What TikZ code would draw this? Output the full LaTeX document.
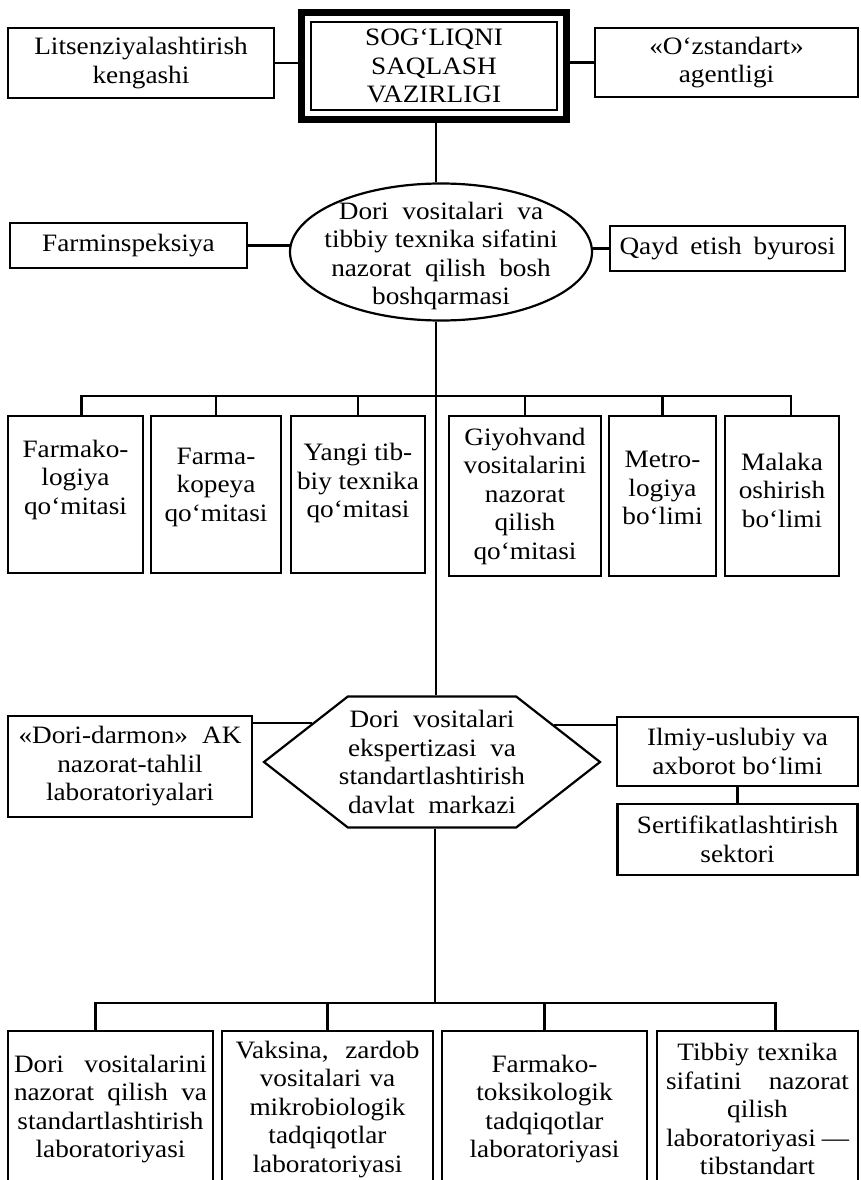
\documentclass[tikz,border=0pt]{standalone}
\usepackage{fontspec}
\setmainfont{Liberation Serif}[FakeStretch=1.09]
\usepackage{tikz}
\usetikzlibrary{shapes.geometric,shapes.symbols,fit}

\begin{document}
\begin{tikzpicture}[x=1pt, y=-1pt, line width=2.2pt,
  every node/.style={font=\fontsize{25}{28.5}\selectfont, align=center, inner sep=2pt}]
\tikzstyle{box}=[draw, rectangle, line width=2.2pt]
\clip (0,0) rectangle (860,1180);

% vazirlik va yonidagilar
\node[box, line width=1.2pt, minimum width=246, minimum height=88] (vaz) at (434,66) {SOG‘LIQNI\\SAQLASH\\VAZIRLIGI};
\node[draw, line width=7pt, fit=(vaz), inner sep=8.5pt] (vazf) {};
\node[box, minimum width=266, minimum height=70] (t1) at (141,63) {Litsenziyalashtirish\\kengashi};
\node[box, minimum width=263, minimum height=69] (t3) at (726.5,62.5) {«O‘zstandart»\\agentligi};

% bosh boshqarma
\node[draw, ellipse, minimum width=302, minimum height=137, inner sep=0pt,
  label={[yshift=-4pt]center:{Dori\ \ vositalari\ \ va\\tibbiy texnika sifatini\\nazorat\ \ qilish\ \ bosh\\boshqarmasi}}] (ell) at (441,252) {};
\node[box, minimum width=237, minimum height=45] (farm) at (128.5,245.5) {Farminspeksiya};
\node[box, minimum width=235, minimum height=45, text width=216] (qayd) at (727.5,248.5) {Qayd\hfill etish\hfill byurosi};

% qo'mitalar
\node[box, anchor=north, minimum width=135, minimum height=157, text depth=35pt] (k1) at (75.5,415) {Farmako-\\logiya\\qo‘mitasi};
\node[box, anchor=north, minimum width=130, minimum height=157, text depth=20pt] (k2) at (216,415) {Farma-\\kopeya\\qo‘mitasi};
\node[box, anchor=north, minimum width=134, minimum height=157, text depth=28pt] (k3) at (358,415) {Yangi tib-\\biy texnika\\qo‘mitasi};
\node[box, anchor=north, minimum width=152, minimum height=160] (k4) at (525,415) {Giyohvand\\vositalarini\\nazorat\\qilish\\qo‘mitasi};
\node[box, anchor=north, minimum width=107, minimum height=160, text depth=16pt] (k5) at (662.5,415) {Metro-\\logiya\\bo‘limi};
\node[box, anchor=north, minimum width=114, minimum height=160, text depth=12pt] (k6) at (782,415) {Malaka\\oshirish\\bo‘limi};

% davlat markazi
\node[draw, signal, signal to=east and west, signal pointer angle=76,
  minimum width=336, minimum height=131, inner sep=0pt,
  label={center:{Dori\ \ vositalari\\ekspertizasi\ \ va\\standartlashtirish\\davlat\ \ markazi}}] (hex) at (432,762) {};
\node[box, minimum width=244, minimum height=101, text width=223] (dd) at (130,766.5) {«Dori-darmon»\hfill AK\\nazorat-tahlil\\laboratoriyalari};
\node[box, minimum width=241, minimum height=69] (ilm) at (737.5,751.5) {Ilmiy-uslubiy va\\axborot bo‘limi};
\node[box, minimum width=240, minimum height=71] (sert) at (737.5,839.5) {Sertifikatlashtirish\\sektori};

% laboratoriyalar
\node[box, anchor=north, minimum width=205, minimum height=156, text width=193] (l1) at (110.5,1030) {Dori\hfill vositalarini\\nazorat\hfill qilish\hfill va\\standartlashtirish\\laboratoriyasi};
\node[box, anchor=north, minimum width=211, minimum height=156, text width=184] (l2) at (327.5,1030) {Vaksina,\hfill zardob\\vositalari va\\mikrobiologik\\tadqiqotlar\\laboratoriyasi};
\node[box, anchor=north, minimum width=205, minimum height=156] (l3) at (544.5,1030) {Farmako-\\toksikologik\\tadqiqotlar\\laboratoriyasi};
\node[box, anchor=north, minimum width=201, minimum height=156, text width=183] (l4) at (757.5,1030) {Tibbiy texnika\\sifatini\hfill nazorat\\qilish\\laboratoriyasi\hfill —\\tibstandart};

\coordinate (bus1) at (436,396);
\coordinate (bus2) at (435,1003);

\draw (t1.east) -- (t1.east -| vazf.west);
\draw (t3.west) -- (t3.west -| vazf.east);
\draw (vazf.south -| bus1) -- (ell.north -| bus1);
\draw (farm.east) -- (farm.east -| ell.177);
\draw (qayd.west) -- (qayd.west -| ell.east);
\draw (ell.south -| bus1) -- (hex.north -| bus1);
\draw ([xshift=6pt]k1.north) |- (bus1) -| ([xshift=9pt]k6.north);
\foreach \k in {k2,k3,k4,k5}
{\draw (\k.north) -- (\k.north |- bus1);}
\draw (hex.162 -| dd.east) -- (hex.162);
\draw (hex.17) -- (hex.17 -| ilm.west);
\draw (ilm.south) -- (sert.north);
\draw (hex.south -| bus2) -- (bus2);
\draw ([xshift=-15pt]l1.north) |- (bus2) -| ([xshift=18pt]l4.north);
\foreach \k in {l2,l3}
{\draw (\k.north) -- (\k.north |- bus2);}
\end{tikzpicture}
\end{document}
